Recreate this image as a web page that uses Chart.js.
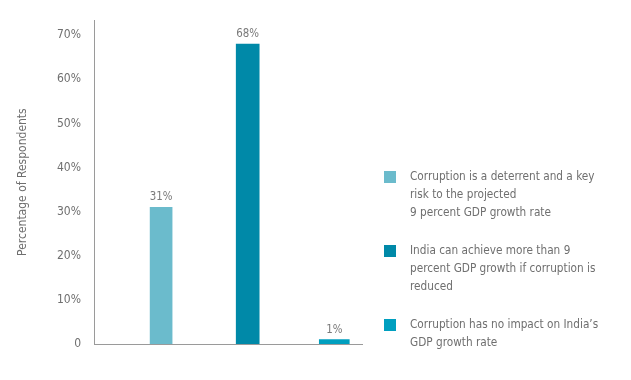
<!DOCTYPE html>
<html>
<head>
<meta charset="utf-8">
<script src="https://cdn.jsdelivr.net/npm/chart.js@4.4.1/dist/chart.umd.min.js"></script>
<style>
  html, body { margin: 0; padding: 0; background: #ffffff; }
  #wrap { position: relative; width: 631px; height: 380px; }
</style>
</head>
<body>
<div id="wrap"><canvas id="c" width="631" height="380"></canvas></div>
<script>
// ---- data ----
const categories = [
  ["Corruption is a deterrent and a key", "risk to the projected", "9 percent GDP growth rate"],
  ["India can achieve more than 9", "percent GDP growth if corruption is", "reduced"],
  ["Corruption has no impact on India\u2019s", "GDP growth rate"]
];
const values = [31, 68, 1];
const positions = [1, 2, 3];
const yTicks = [0, 10, 20, 30, 40, 50, 60, 70];
const yTickLabels = ["0", "10%", "20%", "30%", "40%", "50%", "60%", "70%"];
const colors = ["#6bbbcc", "#0089a8", "#009fbf"];
const thickness = [22, 23, 30];

const FONT = "'DejaVu Sans Condensed', 'Liberation Sans Narrow', sans-serif";
const TEXT = "#6f6f6f";

const datasets = values.map((v, i) => ({
  label: categories[i].join(" "),
  data: [{ x: positions[i], y: v }],
  backgroundColor: colors[i],
  barThickness: thickness[i],
  grouped: false
}));

function condensedText(ctx, t, x, y, squeeze) {
  const w = ctx.measureText(t).width;
  ctx.fillText(t, x, y, w * squeeze);
}

const valueLabels = {
  id: "valueLabels",
  afterDatasetsDraw(chart) {
    const ctx = chart.ctx;
    ctx.save();
    ctx.font = "12px " + FONT;
    ctx.fillStyle = "#7a7a7a";
    ctx.textAlign = "center";
    ctx.textBaseline = "bottom";
    chart.data.datasets.forEach((ds, i) => {
      const meta = chart.getDatasetMeta(i);
      meta.data.forEach((bar, j) => {
        condensedText(ctx, ds.data[j].y + "%", bar.x, bar.y - 4, 0.95);
      });
    });
    ctx.restore();
  }
};

const sideLegend = {
  id: "sideLegend",
  afterDraw(chart) {
    const ctx = chart.ctx;
    ctx.save();
    const boxX = 384, box = 12, textX = 410, lh = 18;
    const starts = [177, 251, 325];
    ctx.font = "13px " + FONT;
    ctx.textBaseline = "middle";
    ctx.textAlign = "left";
    categories.forEach((lines, i) => {
      const y0 = starts[i];
      ctx.fillStyle = colors[i];
      ctx.fillRect(boxX, y0 - box / 2, box, box);
      ctx.fillStyle = TEXT;
      lines.forEach((t, k) => condensedText(ctx, t, textX, y0 + k * lh, 0.9));
    });
    ctx.restore();
  }
};

new Chart(document.getElementById("c"), {
  type: "bar",
  data: { datasets },
  options: {
    responsive: false,
    animation: false,
    layout: { padding: { left: 0, top: 17, right: 269, bottom: 36 } },
    plugins: { legend: { display: false }, tooltip: { enabled: false } },
    scales: {
      x: {
        type: "linear",
        offset: false,
        min: 0.225,
        max: 3.32,
        grid: { display: false, drawTicks: false },
        border: { display: true, color: "#9a9a9a", width: 1 },
        ticks: { display: false },
        afterFit(s) { s.height = 0; }
      },
      y: {
        min: 0,
        max: 73.4,
        grid: { display: false, drawTicks: false },
        border: { display: true, color: "#9a9a9a", width: 1 },
        afterBuildTicks(s) { s.ticks = yTicks.map(v => ({ value: v })); },
        ticks: {
          padding: 13,
          color: TEXT,
          font: { family: FONT, size: 12 },
          callback: (v) => yTickLabels[yTicks.indexOf(v)]
        },
        title: {
          display: true,
          text: "Percentage of Respondents",
          color: TEXT,
          font: { family: FONT, size: 12 },
          padding: { top: 16, bottom: 0 }
        },
        afterFit(s) { s.width = 94; }
      }
    }
  },
  plugins: [valueLabels, sideLegend]
});
</script>
</body>
</html>
